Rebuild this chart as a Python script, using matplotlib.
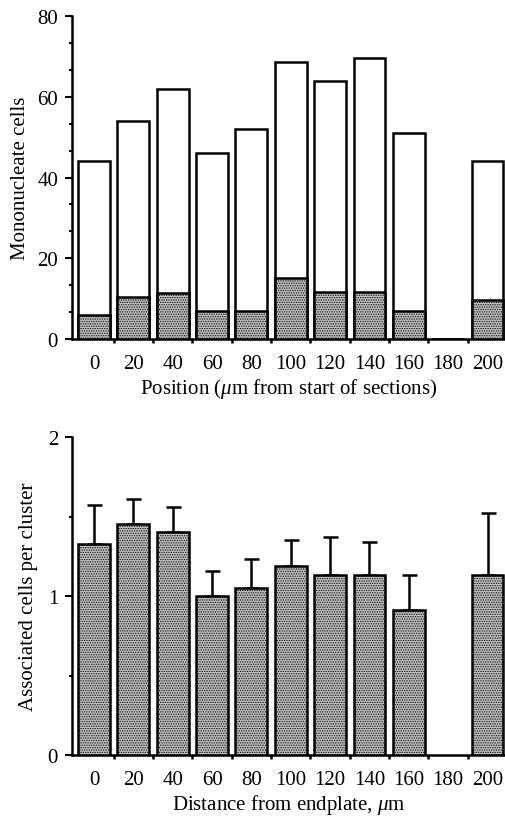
import numpy as np
import matplotlib
matplotlib.use("Agg")
import matplotlib.pyplot as plt
from matplotlib.ticker import MultipleLocator, FixedLocator

plt.rcParams['font.family'] = ['Liberation Serif', 'DejaVu Serif']
plt.rcParams['mathtext.fontset'] = 'custom'
plt.rcParams['mathtext.it'] = 'Liberation Serif:italic'
plt.rcParams['mathtext.rm'] = 'Liberation Serif'
plt.rcParams['hatch.color'] = '#2a2a2a'
plt.rcParams['hatch.linewidth'] = 0.6

# ---- data ----
positions = ['0', '20', '40', '60', '80', '100', '120', '140', '160', '180', '200']
total_cells = [44, 54, 62, 46, 52, 68.5, 64, 69.5, 51, 0, 44]
shaded_cells = [6, 10.5, 11.5, 7, 7, 15, 11.7, 11.7, 7, 0, 9.7]

assoc_mean = [1.33, 1.45, 1.40, 1.00, 1.05, 1.19, 1.13, 1.13, 0.91, np.nan, 1.13]
assoc_err = [0.24, 0.16, 0.16, 0.16, 0.18, 0.165, 0.24, 0.21, 0.22, np.nan, 0.39]

top_xlabel = r'Position ($\mathit{\mu}$m from start of sections)'
top_ylabel = 'Mononucleate cells'
bot_xlabel = r'Distance from endplate, $\mathit{\mu}$m'
bot_ylabel = 'Associated cells per cluster'

W, H = 506, 820
fig = plt.figure(figsize=(W / 100, H / 100), dpi=100)

ax_left = 72 / W
ax_width = 434 / W
ax1 = fig.add_axes([ax_left, (H - 340) / H, ax_width, 323 / H])
ax2 = fig.add_axes([ax_left, (H - 756) / H, ax_width, 318 / H])

x = np.arange(len(positions))
bw = 0.81
lw = 1.8
stipple = dict(facecolor='#c0c0c0', hatch='.......', edgecolor='black', linewidth=lw)

# top panel
ax1.bar(x, total_cells, width=bw, facecolor='white', edgecolor='black', linewidth=lw, zorder=2)
ax1.bar(x, shaded_cells, width=bw, zorder=3, **stipple)
ax1.set_ylim(0, 80)

# bottom panel
m = np.array(assoc_mean, dtype=float)
e = np.array(assoc_err, dtype=float)
ok = ~np.isnan(m)
ax2.bar(x[ok], m[ok], width=bw, zorder=3, **stipple)
ax2.errorbar(x[ok], m[ok], yerr=[np.zeros(ok.sum()), e[ok]], fmt='none',
             ecolor='black', elinewidth=1.8, capsize=5.4, capthick=1.8, zorder=2)
ax2.set_ylim(0, 2)

fs = 15
for ax, xl, yl, lp in [(ax1, top_xlabel, top_ylabel, 5), (ax2, bot_xlabel, bot_ylabel, 7)]:
    ax.set_xlim(-0.56, 10.47)
    for s in ['top', 'right']:
        ax.spines[s].set_visible(False)
    ax.spines['left'].set_linewidth(1.8)
    ax.spines['bottom'].set_linewidth(1.8)
    ax.set_xticks(x)
    ax.set_xticklabels(positions, fontsize=fs)
    ax.tick_params(axis='x', which='major', length=0, pad=11)
    ax.xaxis.set_minor_locator(FixedLocator(x[:-1] + 0.5))
    ax.tick_params(axis='x', which='minor', direction='out', length=3, width=1.8)
    ax.tick_params(axis='y', which='major', direction='out', length=5, width=1.5, labelsize=fs, pad=5)
    ax.tick_params(axis='y', which='minor', direction='out', length=2.5, width=1.5)
    ax.set_xlabel(xl, fontsize=fs, labelpad=2)
    ax.set_ylabel(yl, fontsize=fs, labelpad=lp)

ax1.yaxis.set_major_locator(MultipleLocator(20))
ax1.yaxis.set_minor_locator(MultipleLocator(20 / 3))
ax2.yaxis.set_major_locator(MultipleLocator(1))
ax2.yaxis.set_minor_locator(MultipleLocator(0.5))

fig.savefig('out.png', dpi=100)
